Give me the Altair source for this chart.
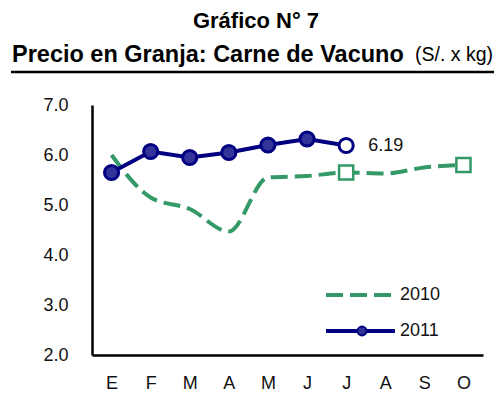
import altair as alt
import pandas as pd

months = ["E", "F", "M", "A", "M", "J", "J", "A", "S", "O"]
v2010 = [6.00, 5.15, 4.92, 4.47, 5.55, 5.58, 5.65, 5.63, 5.75, 5.80]
v2011 = [5.65, 6.07, 5.95, 6.05, 6.20, 6.32, 6.19]
y_ticks = [2.0, 3.0, 4.0, 5.0, 6.0, 7.0]

GREEN = "#339966"
NAVY = "#000080"
NAVY_FILL = "#333399"
FONT = "Liberation Sans"
LBL = 18

df10 = pd.DataFrame({"idx": list(range(len(v2010))), "value": v2010})
df11 = pd.DataFrame({"idx": list(range(len(v2011))), "value": v2011})
df10["marker"] = df10["idx"].isin([6, 9])
df11["last"] = df11["idx"] == len(v2011) - 1

label_expr = "[" + ",".join("'%s'" % m for m in months) + "][datum.value]"

x_enc = alt.X("idx:Q",
              scale=alt.Scale(domain=[-0.5, len(months) - 0.5], nice=False, zero=False),
              axis=alt.Axis(values=list(range(len(months))), labelExpr=label_expr,
                            title=None, grid=False, ticks=False, labelPadding=19,
                            domainColor="black", domainWidth=2.5,
                            labelFontSize=LBL, labelFont=FONT, labelColor="#111"))
y_enc = alt.Y("value:Q",
              scale=alt.Scale(domain=[2, 7], nice=False, zero=False),
              axis=alt.Axis(values=y_ticks, format=".1f", title=None, grid=False,
                            ticks=False, labelPadding=24, domainColor="black",
                            domainWidth=2.5, labelFontSize=LBL, labelFont=FONT,
                            labelColor="#111"))

line10 = alt.Chart(df10).mark_line(
    color=GREEN, strokeWidth=4, strokeDash=[17, 7], interpolate="monotone"
).encode(x=x_enc, y=y_enc)

sq10 = alt.Chart(df10).transform_filter("datum.marker").mark_point(
    shape="square", size=200, filled=True, fill="white", stroke=GREEN, strokeWidth=2.5, opacity=1
).encode(x="idx:Q", y="value:Q")

line11 = alt.Chart(df11).mark_line(color=NAVY, strokeWidth=4).encode(x="idx:Q", y="value:Q")

pts11 = alt.Chart(df11).mark_point(
    shape="circle", size=200, filled=True, stroke=NAVY, strokeWidth=3, opacity=1
).encode(
    x="idx:Q", y="value:Q",
    fill=alt.condition("datum.last", alt.value("white"), alt.value(NAVY_FILL)),
)

lbl = alt.Chart(df11).transform_filter("datum.last").mark_text(
    align="left", baseline="middle", dx=22, fontSize=LBL, font=FONT, color="#111"
).encode(x="idx:Q", y="value:Q", text=alt.Text("value:Q", format=".2f"))

dummy = alt.Chart(pd.DataFrame({"a": [0]}))

leg10 = dummy.mark_rule(color=GREEN, strokeWidth=4, strokeDash=[17, 7]).encode(
    x=alt.value(234), x2=alt.value(303), y=alt.value(190))
leg11 = dummy.mark_rule(color=NAVY, strokeWidth=4).encode(
    x=alt.value(234), x2=alt.value(303), y=alt.value(226))
leg11p = dummy.mark_point(shape="circle", size=80, filled=True, fill=NAVY_FILL,
                          stroke=NAVY, strokeWidth=2, opacity=1).encode(
    x=alt.value(270), y=alt.value(226))
legt10 = dummy.mark_text(align="left", baseline="middle", fontSize=LBL, font=FONT, color="#111").encode(
    x=alt.value(308), y=alt.value(190), text=alt.value("2010"))
legt11 = dummy.mark_text(align="left", baseline="middle", fontSize=LBL, font=FONT, color="#111").encode(
    x=alt.value(308), y=alt.value(226), text=alt.value("2011"))

t1 = dummy.mark_text(align="center", baseline="alphabetic", fontSize=22, fontWeight="bold",
                     font=FONT, color="black").encode(
    x=alt.value(164), y=alt.value(-77), text=alt.value("Gráfico N° 7"))
t2 = dummy.mark_text(align="left", baseline="middle", fontSize=23.5, fontWeight="bold",
                     font=FONT, color="black").encode(
    x=alt.value(-80), y=alt.value(-50), text=alt.value("Precio en Granja: Carne de Vacuno"))
t3 = dummy.mark_text(align="right", baseline="middle", fontSize=19.5,
                     font=FONT, color="black").encode(
    x=alt.value(401), y=alt.value(-50), text=alt.value("(S/. x kg)"))
uline = dummy.mark_rule(color="black", strokeWidth=2.5).encode(
    x=alt.value(-81), x2=alt.value(402), y=alt.value(-33))

chart = alt.layer(
    line10, sq10, line11, pts11, lbl, leg10, leg11, leg11p, legt10, legt11, t1, t2, t3, uline
).properties(
    width=391, height=250,
    autosize=alt.AutoSizeParams(type="none"),
    padding={"left": 84, "top": 97, "right": 11, "bottom": 40},
).configure_view(strokeWidth=0)

chart.save("out.html", embed_options={"renderer": "svg", "actions": False})
